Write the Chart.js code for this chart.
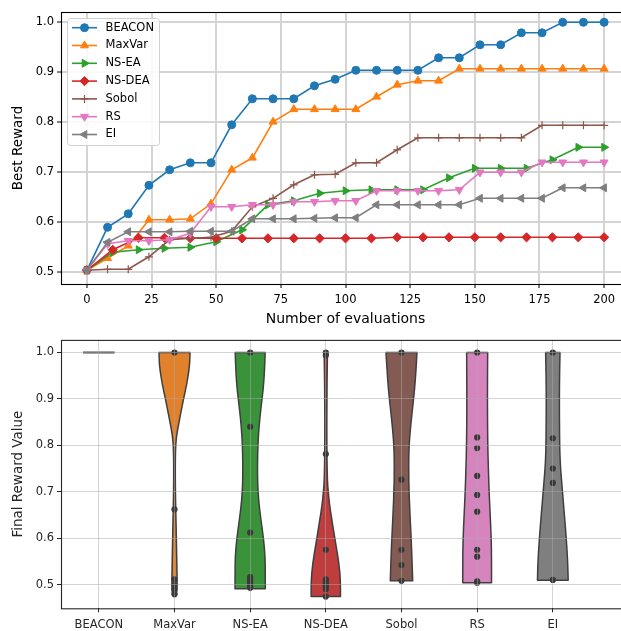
<!DOCTYPE html>
<html>
<head>
<meta charset="utf-8">
<script src="https://cdn.jsdelivr.net/npm/chart.js"></script>
<style>
  html, body { margin: 0; padding: 0; background: #fff; overflow: hidden; }
  #curveBox { position: absolute; left: 0; top: 0; }
  #violinBox { position: absolute; left: 0; top: 330px; }
</style>
</head>
<body>
<div id="curveBox"><canvas id="curveChart" width="640" height="330"></canvas></div>
<div id="violinBox"><canvas id="violinChart" width="640" height="301"></canvas></div>
<script>
// ---- top panel: best reward vs number of evaluations ----
const methods = ['BEACON', 'MaxVar', 'NS-EA', 'NS-DEA', 'Sobol', 'RS', 'EI'];

const evalsA = [0, 8, 16, 24, 32, 40, 48, 56, 64, 72, 80, 88, 96, 104, 112, 120, 128, 136, 144, 152, 160, 168, 176, 184, 192, 200];
const evalsB = [0, 10, 20, 30, 40, 50, 60, 70, 80, 90, 100, 110, 120, 130, 140, 150, 160, 170, 180, 190, 200];

const beacon = [0.504, 0.590, 0.617, 0.674, 0.705, 0.719, 0.719, 0.795, 0.847, 0.847, 0.847, 0.873, 0.886, 0.904, 0.904, 0.904, 0.904, 0.929, 0.929, 0.955, 0.955, 0.979, 0.979, 1.0, 1.0, 1.0];
const maxVar = [0.504, 0.528, 0.553, 0.605, 0.605, 0.607, 0.637, 0.705, 0.729, 0.801, 0.826, 0.826, 0.826, 0.826, 0.851, 0.875, 0.883, 0.883, 0.907, 0.907, 0.907, 0.907, 0.907, 0.907, 0.907, 0.907];
const nsEa = [0.504, 0.540, 0.545, 0.548, 0.550, 0.561, 0.585, 0.635, 0.643, 0.658, 0.663, 0.665, 0.665, 0.665, 0.689, 0.708, 0.708, 0.708, 0.725, 0.750, 0.750];
const nsDea = [0.504, 0.545, 0.569, 0.569, 0.568, 0.568, 0.568, 0.568, 0.568, 0.568, 0.568, 0.568, 0.570, 0.570, 0.570, 0.570, 0.570, 0.570, 0.570, 0.570, 0.570];
const sobol = [0.504, 0.506, 0.506, 0.531, 0.565, 0.568, 0.570, 0.582, 0.631, 0.648, 0.675, 0.695, 0.696, 0.719, 0.719, 0.745, 0.769, 0.769, 0.769, 0.769, 0.769, 0.769, 0.794, 0.794, 0.794, 0.794];
const rs = [0.504, 0.557, 0.563, 0.563, 0.565, 0.578, 0.631, 0.631, 0.635, 0.635, 0.641, 0.641, 0.643, 0.643, 0.663, 0.663, 0.663, 0.663, 0.665, 0.700, 0.700, 0.700, 0.720, 0.720, 0.720, 0.720];
const ei = [0.504, 0.560, 0.581, 0.581, 0.581, 0.582, 0.582, 0.582, 0.607, 0.607, 0.607, 0.608, 0.609, 0.609, 0.635, 0.635, 0.635, 0.635, 0.635, 0.648, 0.648, 0.648, 0.648, 0.669, 0.669, 0.669];

const evalTicks = [0, 25, 50, 75, 100, 125, 150, 175, 200];
const rewardTicks = [0.5, 0.6, 0.7, 0.8, 0.9, 1.0];

// ---- bottom panel: final reward distributions ----
// outlines as [value, half width in category units], bottom to top
const maxVarShape = [[0.479, 0.028], [0.49, 0.033], [0.51, 0.035], [0.55, 0.030], [0.60, 0.025], [0.65, 0.018], [0.70, 0.012], [0.75, 0.010], [0.79, 0.013], [0.82, 0.025], [0.85, 0.060], [0.88, 0.095], [0.90, 0.120], [0.93, 0.160], [0.96, 0.190], [0.98, 0.202], [1.0, 0.205]];
const nsEaShape = [[0.491, 0.200], [0.52, 0.200], [0.56, 0.198], [0.60, 0.176], [0.64, 0.142], [0.68, 0.112], [0.72, 0.098], [0.76, 0.097], [0.80, 0.102], [0.84, 0.117], [0.88, 0.142], [0.92, 0.172], [0.96, 0.190], [1.0, 0.198]];
const nsDeaShape = [[0.474, 0.194], [0.51, 0.194], [0.545, 0.174], [0.587, 0.132], [0.63, 0.088], [0.673, 0.048], [0.70, 0.032], [0.72, 0.022], [0.76, 0.016], [0.82, 0.013], [0.90, 0.014], [0.96, 0.018], [1.0, 0.022]];
const sobolShape = [[0.508, 0.148], [0.58, 0.134], [0.65, 0.112], [0.72, 0.095], [0.79, 0.096], [0.84, 0.119], [0.90, 0.160], [0.94, 0.183], [1.0, 0.205]];
const rsShape = [[0.504, 0.190], [0.56, 0.190], [0.60, 0.186], [0.65, 0.172], [0.70, 0.158], [0.75, 0.148], [0.80, 0.140], [0.90, 0.135], [1.0, 0.139]];
const eiShape = [[0.509, 0.203], [0.545, 0.198], [0.60, 0.178], [0.66, 0.148], [0.72, 0.117], [0.76, 0.098], [0.80, 0.090], [0.90, 0.086], [0.96, 0.090], [1.0, 0.095]];
const beaconFinal = 1.0;
const beaconHalf = 0.209;

const maxVarPts = [1.0, 0.662, 0.511, 0.499, 0.490, 0.479];
const nsEaPts = [1.0, 0.840, 0.612, 0.516, 0.511, 0.506, 0.501, 0.497, 0.493];
const nsDeaPts = [1.0, 0.994, 0.781, 0.575, 0.511, 0.507, 0.503, 0.499, 0.495, 0.490, 0.474];
const sobolPts = [1.0, 0.726, 0.575, 0.542, 0.508];
const rsPts = [1.0, 0.817, 0.794, 0.734, 0.693, 0.657, 0.575, 0.560, 0.507, 0.504];
const eiPts = [1.0, 0.815, 0.750, 0.719, 0.510];

const finalTicks = [0.5, 0.6, 0.7, 0.8, 0.9, 1.0];

// styles
const FONT = 'DejaVu Sans';
const lineColors = ['#1f77b4', '#ff7f0e', '#2ca02c', '#d62728', '#8c564b', '#e377c2', '#7f7f7f'];
const violinColors = ['#3274a1', '#e1812c', '#3a923a', '#c03d3e', '#845b53', '#d684bd', '#7f7f7f'];
const markerStyle = ['circle', 'triangle', 'triangle', 'rectRot', 'cross', 'triangle', 'triangle'];
const markerRot = [0, 0, 90, 0, 0, 180, 270];
const markerSize = [4, 4.6, 4.6, 4.6, 4, 4.6, 4.6];

Chart.defaults.font.family = FONT;
Chart.defaults.color = '#000';
Chart.defaults.animation = false;

const curves = [beacon, maxVar, nsEa, nsDea, sobol, rs, ei];
const curveX = [evalsA, evalsA, evalsB, evalsB, evalsA, evalsA, evalsA];

const curveSets = curves.map((ys, i) => ({
    label: methods[i],
    data: ys.map((y, j) => ({ x: curveX[i][j], y: y })),
    borderColor: lineColors[i],
    backgroundColor: lineColors[i],
    borderWidth: 1.6,
    pointStyle: markerStyle[i],
    pointRotation: markerRot[i],
    pointRadius: markerSize[i],
    pointBorderWidth: i === 4 ? 1.2 : 1,
    tension: 0,
    order: 6 - i
}));

// axes frame (all four spines)
const frame = {
    id: 'frame',
    afterDraw(chart, args, opts) {
        const a = chart.chartArea;
        const ctx = chart.ctx;
        ctx.save();
        ctx.strokeStyle = opts.color || '#000';
        ctx.lineWidth = 1.1;
        ctx.strokeRect(a.left + 0.5, a.top + 0.5, a.right - a.left, a.bottom - a.top);
        ctx.restore();
    }
};

// matplotlib style legend in the upper left corner
const legendBox = {
    id: 'legendBox',
    afterDraw(chart) {
        const ctx = chart.ctx;
        const x0 = 67.5, y0 = 18.5, w = 92, h = 127;
        ctx.save();
        ctx.beginPath();
        ctx.roundRect(x0, y0, w, h, 3);
        ctx.fillStyle = 'rgba(255,255,255,0.85)';
        ctx.fill();
        ctx.strokeStyle = '#d0d0d0';
        ctx.lineWidth = 1;
        ctx.stroke();
        chart.data.datasets.forEach((ds, i) => {
            const y = 27.7 + i * 17.8;
            ctx.strokeStyle = ds.borderColor;
            ctx.fillStyle = ds.backgroundColor;
            ctx.lineWidth = ds.borderWidth;
            ctx.beginPath();
            ctx.moveTo(72, y);
            ctx.lineTo(97, y);
            ctx.stroke();
            ctx.lineWidth = ds.pointBorderWidth;
            Chart.helpers.drawPoint(ctx, {
                pointStyle: ds.pointStyle,
                rotation: ds.pointRotation,
                radius: ds.pointRadius,
                borderWidth: ds.pointBorderWidth
            }, 84.5, y);
            ctx.fillStyle = '#000';
            ctx.font = '11.5px "' + FONT + '"';
            ctx.textBaseline = 'middle';
            ctx.textAlign = 'left';
            ctx.fillText(ds.label, 105.5, y);
        });
        ctx.restore();
    }
};

new Chart(document.getElementById('curveChart'), {
    type: 'line',
    data: { datasets: curveSets },
    options: {
        responsive: false,
        layout: { padding: { top: 12, right: 10, left: 0, bottom: 0 } },
        plugins: { legend: { display: false }, tooltip: { enabled: false }, frame: { color: '#000' } },
        scales: {
            x: {
                type: 'linear',
                min: -10,
                max: 210,
                afterBuildTicks: s => { s.ticks = evalTicks.map(v => ({ value: v })); },
                afterFit: s => { s.height = 46; },
                grid: { color: '#d4d4d4', lineWidth: 2, tickColor: '#000', tickLength: 4, tickWidth: 1 },
                border: { display: false },
                ticks: { font: { size: 11.5 }, padding: 5, maxRotation: 0 },
                title: { display: true, text: 'Number of evaluations', font: { size: 14 }, padding: { top: 0, bottom: 2 } }
            },
            y: {
                min: 0.4766,
                max: 1.0206,
                afterBuildTicks: s => { s.ticks = rewardTicks.map(v => ({ value: v })); },
                afterFit: s => { s.width = 61; },
                grid: { color: '#d4d4d4', lineWidth: 2, tickColor: '#000', tickLength: 4, tickWidth: 1 },
                border: { display: false },
                ticks: { font: { size: 11.5 }, padding: 3, callback: v => v.toFixed(1) },
                title: { display: true, text: 'Best Reward', font: { size: 13.5 }, padding: { top: 10, bottom: 0 } }
            }
        }
    },
    plugins: [frame, legendBox]
});

// ---- violins ----
const shapes = [null, maxVarShape, nsEaShape, nsDeaShape, sobolShape, rsShape, eiShape];
const finals = [[beaconFinal], maxVarPts, nsEaPts, nsDeaPts, sobolPts, rsPts, eiPts];

// smooth path through pixel points (midpoint quadratic curves)
function smoothSide(ctx, pts) {
    ctx.lineTo(pts[0][0], pts[0][1]);
    for (let k = 1; k < pts.length - 1; k++) {
        const mx = (pts[k][0] + pts[k + 1][0]) / 2;
        const my = (pts[k][1] + pts[k + 1][1]) / 2;
        ctx.quadraticCurveTo(pts[k][0], pts[k][1], mx, my);
    }
    const last = pts[pts.length - 1];
    ctx.lineTo(last[0], last[1]);
}

// violin bodies, placed with the chart's own x / y scales
const violinDraw = {
    id: 'violinDraw',
    beforeDatasetsDraw(chart) {
        const ctx = chart.ctx;
        const xs = chart.scales.x, ys = chart.scales.y;
        ctx.save();
        shapes.forEach((shape, i) => {
            if (!shape) return;
            const right = shape.map(p => [xs.getPixelForValue(i + p[1]), ys.getPixelForValue(p[0])]);
            const left = shape.slice().reverse().map(p => [xs.getPixelForValue(i - p[1]), ys.getPixelForValue(p[0])]);
            ctx.beginPath();
            ctx.moveTo(left[left.length - 1][0], left[left.length - 1][1]);
            smoothSide(ctx, right);
            smoothSide(ctx, left);
            ctx.closePath();
            ctx.fillStyle = violinColors[i];
            ctx.fill();
            ctx.strokeStyle = '#3f3f3f';
            ctx.lineWidth = 1.5;
            ctx.lineJoin = 'round';
            ctx.stroke();
        });
        ctx.restore();
    }
};

const violinSets = [
    {
        type: 'line',
        data: [{ x: 0 - beaconHalf, y: beaconFinal }, { x: 0 + beaconHalf, y: beaconFinal }],
        borderColor: '#4a4a4a',
        borderWidth: 2,
        pointRadius: 0,
        fill: false,
        order: 2
    },
    {
        type: 'scatter',
        data: finals.slice(1).flatMap((vals, k) => vals.map(v => ({ x: k + 1, y: v }))),
        backgroundColor: '#393939',
        borderWidth: 0,
        pointRadius: 3.1,
        order: 1
    }
];

new Chart(document.getElementById('violinChart'), {
    type: 'scatter',
    data: { datasets: violinSets },
    options: {
        responsive: false,
        layout: { padding: { top: 7.3, right: 10, left: 0, bottom: 0 } },
        plugins: { legend: { display: false }, tooltip: { enabled: false }, frame: { color: '#262626' } },
        scales: {
            x: {
                type: 'linear',
                min: -0.5,
                max: 7.02,
                afterBuildTicks: s => { s.ticks = methods.map((m, i) => ({ value: i })); },
                afterFit: s => { s.height = 22.7; },
                grid: { color: 'rgba(170,170,170,0.5)', lineWidth: 1, z: 1, tickColor: '#262626', tickLength: 4 },
                border: { display: false },
                ticks: { font: { size: 11.5 }, padding: 6, maxRotation: 0, color: '#262626', callback: v => methods[v] }
            },
            y: {
                min: 0.4488,
                max: 1.0271,
                afterBuildTicks: s => { s.ticks = finalTicks.map(v => ({ value: v })); },
                afterFit: s => { s.width = 61; },
                grid: { color: 'rgba(170,170,170,0.5)', lineWidth: 1, z: 1, tickColor: '#262626', tickLength: 4 },
                border: { display: false },
                ticks: { font: { size: 11.5 }, padding: 3, color: '#262626', callback: v => v.toFixed(1) },
                title: { display: true, text: 'Final Reward Value', font: { size: 13.5 }, color: '#262626', padding: { top: 10, bottom: 0 } }
            }
        }
    },
    plugins: [violinDraw, frame]
});
</script>
</body>
</html>
